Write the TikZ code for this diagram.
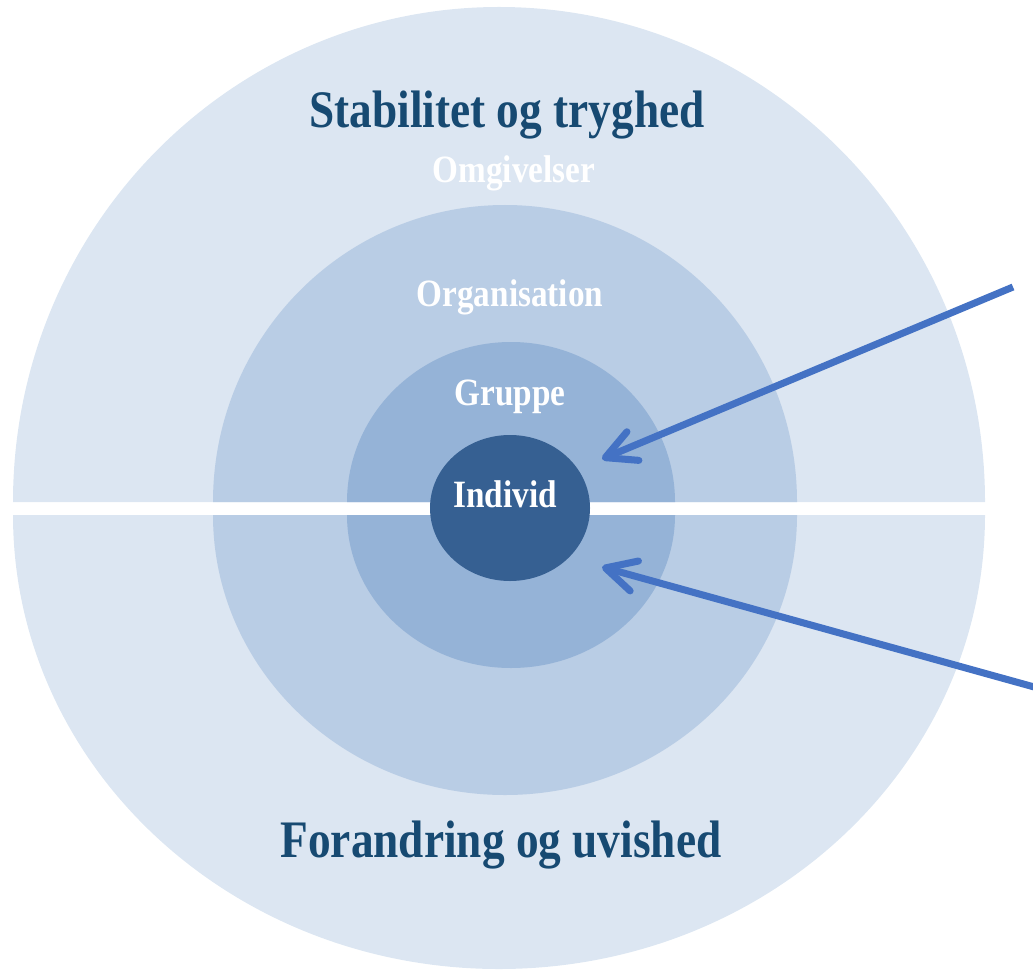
\documentclass[tikz,border=0pt]{standalone}
\usepackage{fontspec}
\setmainfont{Liberation Serif}[FakeStretch=0.86]
\usetikzlibrary{arrows.meta,positioning}
\definecolor{RingOuter}{HTML}{DCE6F2}
\definecolor{RingOrg}{HTML}{B9CDE5}
\definecolor{RingGroup}{HTML}{95B3D7}
\definecolor{RingCore}{HTML}{366092}
\definecolor{RingInk}{HTML}{174A72}
\definecolor{RingArrow}{HTML}{4472C4}
\tikzset{
  headline/.style={
    anchor=base,
    inner sep=0pt,
    text=RingInk,
    font=\fontsize{30}{34}\selectfont\bfseries
  },
  ringlabel/.style={
    anchor=base,
    inner sep=0pt,
    text=white,
    font=\fontsize{22}{26}\selectfont\bfseries
  },
  ringarrow/.style={
    -{Straight Barb[length=6mm,width=6.2mm,round]},
    line width=4pt,
    draw=RingArrow
  }
}

\begin{document}
\begin{tikzpicture}[x=0.02cm,y=-0.02cm]
        \useasboundingbox (0,0) rectangle (1033,969);
        % rings, split by the white band
        \foreach \cx/\rx/\rt/\rb/\col in {499/486/495/454/RingOuter,505/292/297/280/RingOrg,511/164/160/153/RingGroup}{
          \fill[\col] (\cx-\rx,502) arc[start angle=180,end angle=360,x radius=\rx,y radius=\rt] -- cycle;
          \fill[\col] (\cx+\rx,515) arc[start angle=0,end angle=180,x radius=\rx,y radius=\rb] -- cycle;
        }
        \fill[RingCore] (510,508) ellipse[x radius=80,y radius=73];
        \node[headline] (stable) at (507,128) {Stabilitet og tryghed};
        \node[ringlabel] (env) at (514,183) {Omgivelser};
        \node[ringlabel] (org) at (510,306) {Organisation};
        \node[ringlabel] (group) at (510,405) {Gruppe};
        \node[ringlabel] (self) at (505,507) {Individ};
        \node[headline] (change) at (501,857) {Forandring og uvished};
        \coordinate (upTail) at (1013,287);
        \coordinate (upTip) at (602,459);
        \coordinate (lowTail) at (1045,690);
        \coordinate (lowTip) at (602,567);
        \draw[ringarrow] (upTail) -- (upTip);
        \draw[ringarrow] (lowTail) -- (lowTip);
      \end{tikzpicture}
\end{document}
